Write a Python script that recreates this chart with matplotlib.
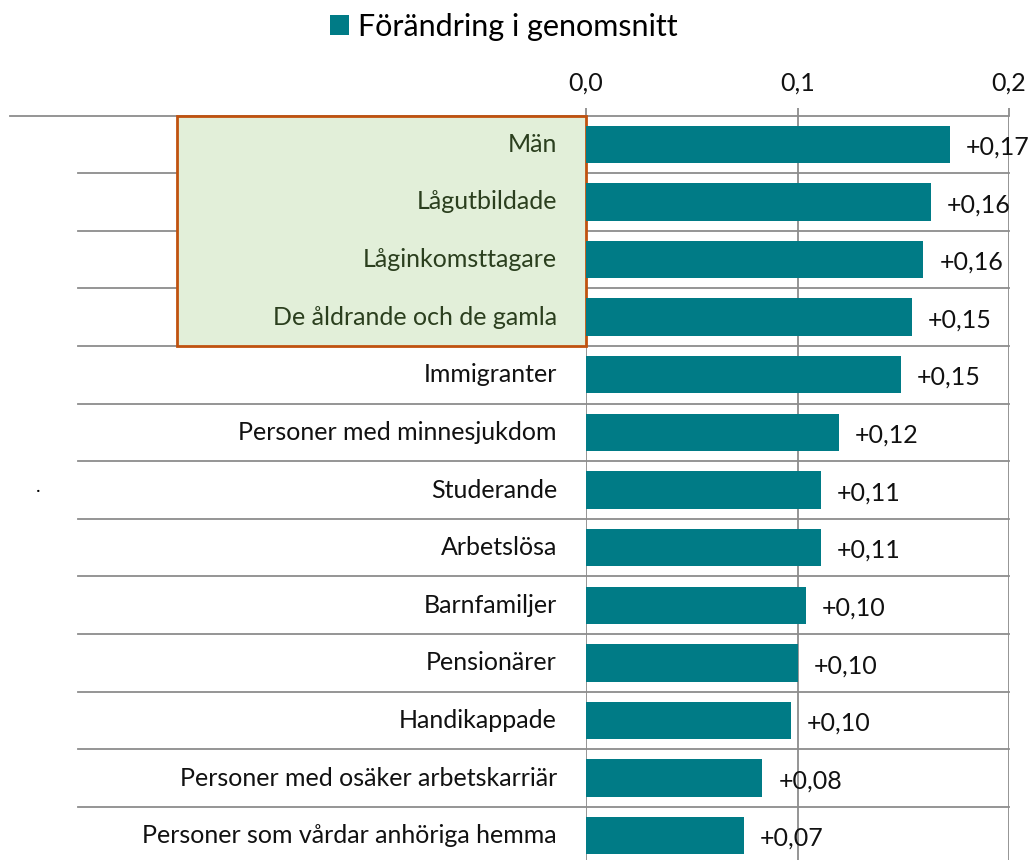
import matplotlib.pyplot as plt
from matplotlib.patches import Rectangle

plt.rcParams['font.family'] = ['Lato', 'DejaVu Sans']

categories = ['Män', 'Lågutbildade', 'Låginkomsttagare', 'De åldrande och de gamla',
              'Immigranter', 'Personer med minnesjukdom', 'Studerande', 'Arbetslösa',
              'Barnfamiljer', 'Pensionärer', 'Handikappade',
              'Personer med osäker arbetskarriär', 'Personer som vårdar anhöriga hemma']
values = [0.172, 0.163, 0.1595, 0.154, 0.149, 0.1195, 0.111, 0.111,
          0.104, 0.100, 0.097, 0.0834, 0.0748]
highlighted = 4
series_name = 'Förändring i genomsnitt'
xticks = [0.0, 0.1, 0.2]

bar_color = '#007b86'
grid_color = '#8c8c8c'

fig = plt.figure(figsize=(10.33, 8.6), dpi=100)
W, H = 1033, 860
x0, x1 = 586, 1009
ytop, ybot = 115.5, 864.5
ax = fig.add_axes([x0 / W, 1 - ybot / H, (x1 - x0) / W, (ybot - ytop) / H])
axw = x1 - x0

ypos = list(range(len(categories)))
bars = ax.barh(ypos, values, height=0.65, color=bar_color, label=series_name, zorder=3)
ax.set_xlim(0, 0.2)
ax.set_ylim(len(categories) - 0.5, -0.5)

# vertical grid + outward ticks on top
ax.set_xticks(xticks)
ax.set_xticklabels([f'{t:.1f}'.replace('.', ',') for t in xticks])
ax.xaxis.tick_top()
ax.tick_params(axis='x', direction='out', length=6, width=1.3, color=grid_color,
               labelsize=18, pad=9, labelcolor='#111111')
ax.set_yticks([])
ax.grid(axis='x', color=grid_color, linewidth=1.3, zorder=1)
for s in ax.spines.values():
    s.set_visible(False)

# row separators extend left into the label area
tr = ax.get_yaxis_transform()
ax.plot([-(x0 - 10) / axw, 1], [-0.5, -0.5], transform=tr, color=grid_color,
        lw=1.3, clip_on=False, zorder=1)
for i in range(1, len(categories) + 1):
    ax.plot([-(x0 - 78) / axw, 1], [i - 0.5, i - 0.5], transform=tr, color=grid_color,
            lw=1.3, clip_on=False, zorder=1)

# highlight box
ax.add_patch(Rectangle((-(x0 - 177) / axw, -0.5), (x0 - 177) / axw, highlighted,
                       transform=tr, facecolor='#e2efd9', edgecolor='#c0520f',
                       lw=2, clip_on=False, zorder=2))

for i, name in enumerate(categories):
    col = '#2b3f1e' if i < highlighted else '#111111'
    ax.text(-29 / axw, i, name, transform=tr, ha='right', va='center',
            fontsize=18, color=col, zorder=4)

for rect, v in zip(bars, values):
    ax.annotate(f'+{v:.2f}'.replace('.', ','), (v, rect.get_y() + rect.get_height() / 2),
                xytext=(11.5, -2), textcoords='offset points', ha='left', va='center',
                fontsize=18, color='#111111', annotation_clip=False, zorder=4)

fig.legend(handles=[bars], labels=[series_name], loc='center', bbox_to_anchor=(0.488, 0.969),
           frameon=False, fontsize=22, handlelength=0.62, handleheight=0.62,
           handletextpad=0.3, borderpad=0)

fig.text(38 / W, 1 - 492 / H, '.', fontsize=14, ha='center', va='baseline')

fig.savefig('out.png', dpi=100)
